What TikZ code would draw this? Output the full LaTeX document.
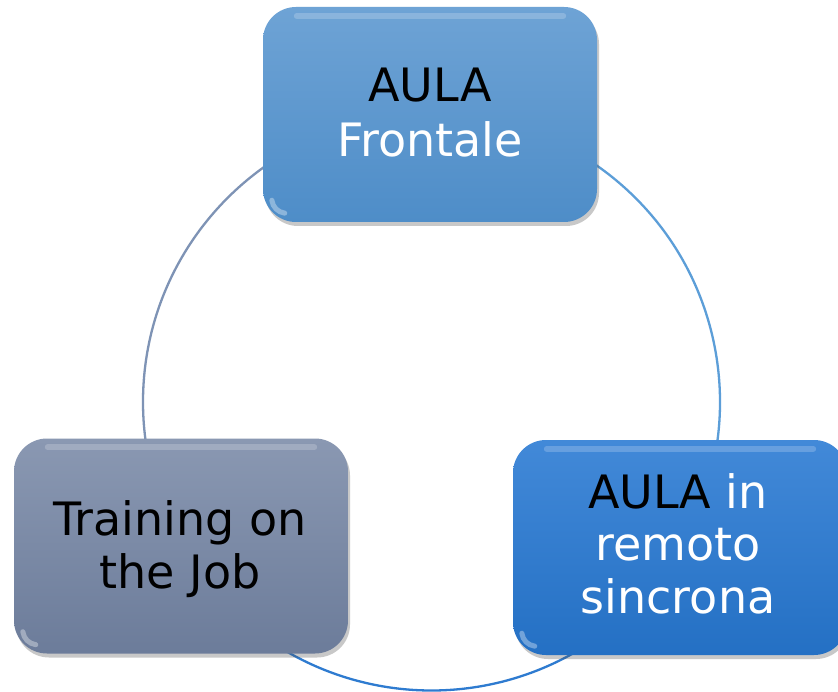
\documentclass[tikz,border=0pt]{standalone}
\usepackage{fontspec}
\setmainfont{DejaVu Sans}
\usetikzlibrary{shadows,calc}
\definecolor{topA}{RGB}{110,163,213}
\definecolor{topB}{RGB}{78,141,200}
\definecolor{grayA}{RGB}{138,152,178}
\definecolor{grayB}{RGB}{108,124,154}
\definecolor{blueA}{RGB}{66,137,216}
\definecolor{blueB}{RGB}{36,112,196}
\definecolor{arcGray}{RGB}{126,147,181}
\definecolor{arcLight}{RGB}{92,158,216}
\definecolor{arcDeep}{RGB}{46,123,208}
\begin{document}
\begin{tikzpicture}[x=1pt,y=-1pt,
  card/.style={rectangle, rounded corners=33pt, minimum width=334pt, minimum height=215pt, inner sep=0pt, draw=none,
    drop shadow={shadow xshift=2pt, shadow yshift=-4pt, opacity=0.3, fill=black!70}},
  lbl/.style={font=\fontsize{46}{54}\selectfont, anchor=base, inner sep=0pt},
  ring/.style={line width=2.3pt},
  gloss/.style={white, opacity=0.2, line width=6pt, line cap=round},
  shine/.style={white, opacity=0.35, line width=5pt, line cap=round}]
\useasboundingbox (0,0) rectangle (838,692);
\fill[white] (0,0) rectangle (838,692);
\coordinate (c) at (431.5,402);
% ring
\draw[ring, arcGray] (c) ++(-90:288.5) arc[start angle=-90, end angle=-220, radius=288.5];
\draw[ring, arcDeep] (c) ++(-220:288.5) arc[start angle=-220, end angle=-320, radius=288.5];
\draw[ring, arcLight] (c) ++(-320:288.5) arc[start angle=-320, end angle=-450, radius=288.5];
% cards
\node[card, top color=topA, bottom color=topB] (fr) at (430,114.5) {};
\node[card, top color=grayA, bottom color=grayB] (tj) at (181,546) {};
\node[card, top color=blueA, bottom color=blueB] (rs) at (680,547.5) {};
% gloss and corner shine
\foreach \n in {fr,tj,rs}{
  \draw[gloss] ($(\n.north west)+(34,9)$) -- ($(\n.north east)+(-34,9)$);
  \draw[shine] ($(\n.south west)+(9,-22)$) .. controls ($(\n.south west)+(10,-15)$) and ($(\n.south west)+(15,-10)$) .. ($(\n.south west)+(22,-9)$);
}
% labels
\node[lbl, text=black] (fr1) at (430,102) {AULA};
\node[lbl, text=white] (fr2) at (430,157) {Frontale};
\node[lbl, text=black] (tj1) at (180,535) {Training on};
\node[lbl, text=black] (tj2) at (180,588) {the Job};
\node[lbl] (rs1) at (678,508) {\textcolor{black}{AULA} \textcolor{white}{in}};
\node[lbl, text=white] (rs2) at (678,560) {remoto};
\node[lbl, text=white] (rs3) at (678,613) {sincrona};
\end{tikzpicture}
\end{document}
